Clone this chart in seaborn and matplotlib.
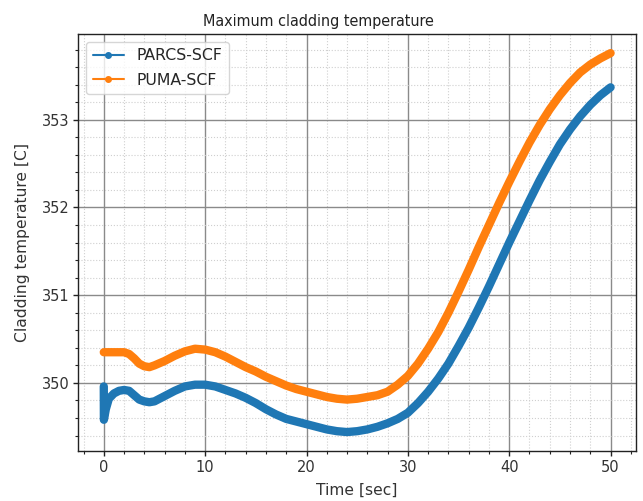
import numpy as np
import pandas as pd
import matplotlib
matplotlib.use("Agg")
import matplotlib.pyplot as plt
from matplotlib.lines import Line2D
from matplotlib.ticker import MultipleLocator
import seaborn as sns

# ---- data ----
parcs_t = [0, 0.01, 0.2, 0.5, 1, 1.5, 2, 2.5, 3, 3.5, 4, 4.5, 5, 6, 7, 8, 9, 10,
           11, 12, 13, 14, 15, 16, 17, 18, 19, 20, 21, 22, 23, 24, 25, 26, 27,
           28, 29, 30, 31, 32, 33, 34, 35, 36, 37, 38, 39, 40, 41, 42, 43, 44,
           45, 46, 47, 48, 49, 50]
parcs_T = [349.96, 349.58, 349.70, 349.82, 349.88, 349.91, 349.92, 349.91, 349.86,
           349.81, 349.79, 349.78, 349.79, 349.85, 349.91, 349.96, 349.98, 349.98,
           349.96, 349.92, 349.88, 349.83, 349.77, 349.70, 349.64, 349.59, 349.56,
           349.53, 349.50, 349.47, 349.45, 349.44, 349.45, 349.47, 349.50, 349.54,
           349.59, 349.66, 349.77, 349.90, 350.05, 350.22, 350.42, 350.63, 350.86,
           351.10, 351.35, 351.60, 351.84, 352.08, 352.31, 352.52, 352.72, 352.89,
           353.04, 353.17, 353.28, 353.37]

puma_t = [0, 0.5, 1, 1.5, 2, 2.5, 3, 3.5, 4, 4.5, 5, 6, 7, 8, 9, 10, 11, 12, 13,
          14, 15, 16, 17, 18, 19, 20, 21, 22, 23, 24, 25, 26, 27, 28, 29, 30, 31,
          32, 33, 34, 35, 36, 37, 38, 39, 40, 41, 42, 43, 44, 45, 46, 47, 48, 49, 50]
puma_T = [350.35, 350.35, 350.35, 350.35, 350.35, 350.33, 350.28, 350.22, 350.19,
          350.18, 350.20, 350.25, 350.31, 350.36, 350.39, 350.38, 350.35, 350.30,
          350.24, 350.18, 350.13, 350.07, 350.02, 349.97, 349.93, 349.90, 349.87,
          349.84, 349.82, 349.81, 349.82, 349.84, 349.86, 349.90, 349.98, 350.08,
          350.22, 350.39, 350.58, 350.80, 351.04, 351.29, 351.55, 351.80, 352.05,
          352.29, 352.52, 352.74, 352.94, 353.12, 353.28, 353.42, 353.54, 353.63,
          353.70, 353.76]

series_names = ["PARCS-SCF", "PUMA-SCF"]
colors = ["#1f77b4", "#ff7f0e"]

title = "Maximum cladding temperature"
xlabel = "Time [sec]"
ylabel = "Cladding temperature [C]"

df = pd.concat([
    pd.DataFrame({"t": parcs_t, "T": parcs_T, "series": series_names[0]}),
    pd.DataFrame({"t": puma_t, "T": puma_T, "series": series_names[1]}),
], ignore_index=True)

sns.set_style("ticks")
plt.rcParams["font.family"] = ["DejaVu Sans"]

fig = plt.figure(figsize=(6.43, 5.01), dpi=100)
ax = fig.add_axes([0.122, 0.0998, 0.867, 0.832])

sns.lineplot(data=df, x="t", y="T", hue="series", palette=colors,
             hue_order=series_names, sort=False, estimator=None,
             linewidth=6, ax=ax, legend=False)
for ln in ax.get_lines():
    ln.set_solid_capstyle("round")
    ln.set_solid_joinstyle("round")

ax.margins(x=0.05, y=0.05)
ax.xaxis.set_major_locator(MultipleLocator(10))
ax.xaxis.set_minor_locator(MultipleLocator(2))
ax.yaxis.set_major_locator(MultipleLocator(1))
ax.yaxis.set_minor_locator(MultipleLocator(0.2))
ax.grid(which="major", color="#8a8a8a", linewidth=1.0, linestyle="-")
ax.grid(which="minor", color="#cfcfcf", linewidth=0.8, linestyle=":")
ax.set_axisbelow(True)
for sp in ax.spines.values():
    sp.set_visible(True)
    sp.set_color("#222222")
    sp.set_linewidth(1.0)
ax.tick_params(which="major", direction="out", length=3.5, width=1, labelsize=10.5,
               colors="#222222", labelcolor="#333333", pad=3)
ax.tick_params(which="minor", direction="out", length=2.5, width=0.8, colors="#222222")

ax.set_title(title, fontsize=11.5, color="#222222", x=0.431, fontstretch="condensed")
ax.set_xlabel(xlabel, fontsize=11.2, color="#333333", labelpad=5.5)
ax.set_ylabel(ylabel, fontsize=11.2, color="#333333", labelpad=8.5)

handles = [Line2D([0], [0], color=c, marker=".", markersize=8, linewidth=1.5)
           for c in colors]
ax.legend(handles, series_names, loc="upper left", fontsize=11.3, frameon=True,
          fancybox=True, framealpha=0.8, edgecolor="#cccccc", labelspacing=0.6)

fig.savefig("out.png", dpi=100)
